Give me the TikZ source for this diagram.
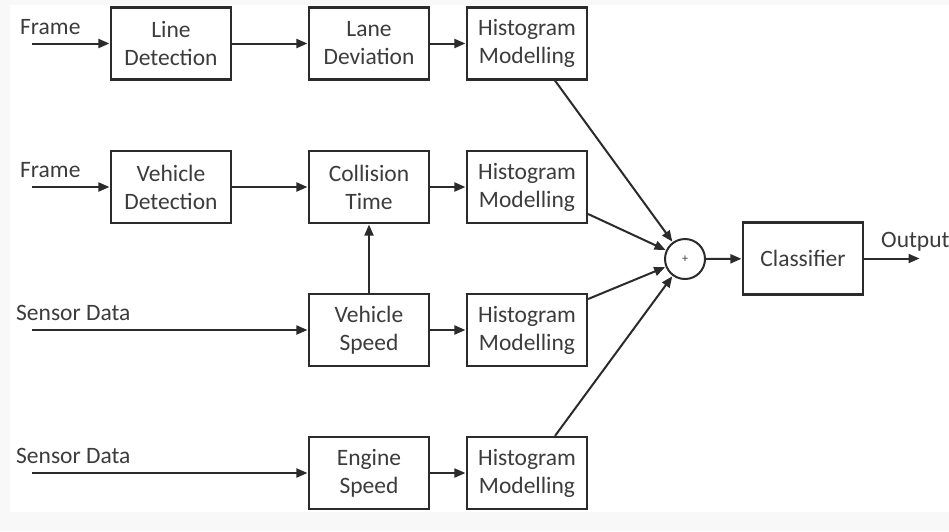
\documentclass[tikz,border=0pt]{standalone}
\usepackage{fontspec}
\setmainfont{Carlito}
\usetikzlibrary{arrows.meta}
\definecolor{inkline}{HTML}{2B2B2B}
\definecolor{inktext}{HTML}{3C3C3C}
\definecolor{paper}{HTML}{F8F8F8}
\begin{document}
\begin{tikzpicture}[x=1pt,y=-1pt,
  font=\fontsize{23.5}{28}\selectfont,
  block/.style={draw=inkline, line width=2.2pt, fill=white, text=inktext,
    minimum width=120pt, minimum height=72pt, align=center, inner sep=0pt},
  sumnode/.style={draw=inkline, line width=2pt, circle, minimum size=40pt, inner sep=0pt},
  label/.style={text=inktext, inner sep=0pt, anchor=base west},
  flow/.style={draw=inkline, line width=2pt,
    -{Triangle[length=11pt,width=9pt]}, shorten >=0.5pt}
]
  % page
  \useasboundingbox (0,0) rectangle (949,531);
  \fill[paper] (0,0) rectangle (949,531);
  \fill[white] (10,5) rectangle (949,512);

  % row 1: lane deviation
  \node[block] (ld) at (171,43.5) {Line\\Detection};
  \node[block] (dev) at (369,43.5) {Lane\\Deviation};
  \node[block] (h1) at (527,43.5) {Histogram\\Modelling};

  % row 2: collision time
  \node[block] (vd) at (171,187) {Vehicle\\Detection};
  \node[block] (ct) at (369,187) {Collision\\Time};
  \node[block] (h2) at (527,187) {Histogram\\Modelling};

  % row 3: vehicle speed
  \node[block] (vs) at (369,330) {Vehicle\\Speed};
  \node[block] (h3) at (527,330) {Histogram\\Modelling};

  % row 4: engine speed
  \node[block] (es) at (369,473) {Engine\\Speed};
  \node[block] (h4) at (527,473) {Histogram\\Modelling};

  % fusion and classification
  \node[sumnode] (sum) at (685,259) {\fontsize{12}{12}\selectfont\textcolor{inktext}{+}};
  \node[block] (cls) at (803,258.5) {Classifier};

  % inputs
  \node[label] (f1) at (20,34) {Frame};
  \node[label] (f2) at (20,177) {Frame};
  \node[label] (s1) at (16,320) {Sensor Data};
  \node[label] (s2) at (16,463) {Sensor Data};
  \node[label] (out) at (881,247) {Output};

  \coordinate (in1) at (32,43.5);
  \coordinate (in2) at (32,187);
  \coordinate (in3) at (32,330);
  \coordinate (in4) at (32,473);
  \coordinate (outend) at (920,258.5);

  % connectors
  \draw[flow] (in1) -- (ld);
  \draw[flow] (ld) -- (dev);
  \draw[flow] (dev) -- (h1);

  \draw[flow] (in2) -- (vd);
  \draw[flow] (vd) -- (ct);
  \draw[flow] (ct) -- (h2);

  \draw[flow] (in3) -- (vs);
  \draw[flow] (vs) -- (h3);
  \draw[flow] (vs) -- (ct);

  \draw[flow] (in4) -- (es);
  \draw[flow] (es) -- (h4);

  \draw[flow] ([xshift=28pt]h1.south) -- (sum);
  \draw[flow] ([yshift=-27pt]h2.east) -- (sum);
  \draw[flow] ([yshift=31pt]h3.east) -- (sum);
  \draw[flow] ([xshift=28pt]h4.north) -- (sum);

  \draw[flow] (sum) -- (cls);
  \draw[flow] (cls) -- (outend);
\end{tikzpicture}
\end{document}
